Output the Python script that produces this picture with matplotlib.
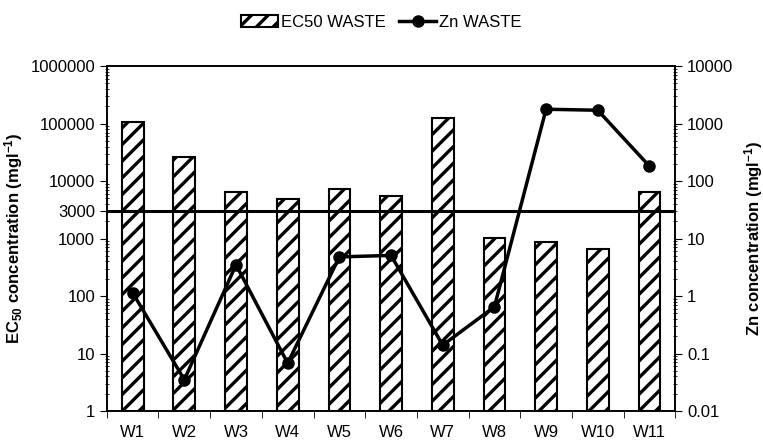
import numpy as np
import matplotlib.pyplot as plt
from matplotlib.ticker import FixedLocator, FuncFormatter, LogLocator, NullFormatter

plt.rcParams["font.family"] = ["Liberation Sans", "DejaVu Sans"]
plt.rcParams["hatch.linewidth"] = 2.4
plt.rcParams["mathtext.fontset"] = "custom"
plt.rcParams["mathtext.rm"] = "Liberation Sans"
plt.rcParams["mathtext.bf"] = "Liberation Sans:bold"
plt.rcParams["mathtext.default"] = "bf"

sites = ["W1", "W2", "W3", "W4", "W5", "W6", "W7", "W8", "W9", "W10", "W11"]
ec50 = [105000, 26000, 6450, 4900, 7350, 5550, 123000, 1030, 870, 660, 6500]
zn = [1.14, 0.035, 3.5, 0.068, 4.8, 5.1, 0.14, 0.65, 1780, 1710, 182]
threshold = 3000
left_ticks = [1, 10, 100, 1000, 3000, 10000, 100000, 1000000]
right_ticks = [0.01, 0.1, 1, 10, 100, 1000, 10000]

fig = plt.figure(figsize=(7.63, 4.47), dpi=100)
ax = fig.add_axes([0.140, 0.0805, 0.745, 0.7715])
x = np.arange(len(sites))

bars = ax.bar(x, ec50, width=0.42, bottom=1, color="white", edgecolor="black",
              linewidth=1.5, hatch="//", label="EC50 WASTE", zorder=2)
ax.axhline(threshold, color="black", linewidth=2.2, zorder=3)
ax.set_yscale("log")
ax.set_ylim(1, 1000000)
ax.set_xlim(-0.5, len(sites) - 0.5)
ax.yaxis.set_major_locator(FixedLocator(left_ticks))
ax.yaxis.set_major_formatter(FuncFormatter(lambda v, _: f"{int(v)}"))
ax.yaxis.set_minor_locator(LogLocator(base=10, subs=np.arange(2, 10)))
ax.yaxis.set_minor_formatter(NullFormatter())
ax.tick_params(axis="y", which="major", length=5, direction="out", labelsize=12)
ax.tick_params(axis="y", which="minor", length=3, direction="inout")
ax.set_ylabel("EC$_{50}$ concentration (mgl$^{-1}$)", fontsize=12, fontweight="bold", labelpad=4)

ax.set_xticks(x)
ax.set_xticklabels(sites, fontsize=12)
ax.set_xticks(np.arange(-0.5, len(sites)), minor=True)
ax.tick_params(axis="x", which="major", length=0, pad=10)
ax.tick_params(axis="x", which="minor", length=5, direction="out")

ax2 = ax.twinx()
ax2.set_yscale("log")
ax2.set_ylim(0.01, 10000)
line, = ax2.plot(x, zn, color="black", linewidth=2.5, marker="o", markersize=8,
                 label="Zn WASTE", zorder=4)
ax2.yaxis.set_major_locator(FixedLocator(right_ticks))
ax2.yaxis.set_major_formatter(FuncFormatter(lambda v, _: f"{v:g}"))
ax2.yaxis.set_minor_locator(LogLocator(base=10, subs=np.arange(2, 10)))
ax2.yaxis.set_minor_formatter(NullFormatter())
ax2.tick_params(axis="y", which="major", length=5, direction="out", labelsize=12)
ax2.tick_params(axis="y", which="minor", length=3, direction="inout")
ax2.set_ylabel("Zn concentration (mgl$^{-1}$)", fontsize=12, fontweight="bold", labelpad=6)

for a in (ax, ax2):
    for s in a.spines.values():
        s.set_linewidth(1.2)

fig.legend([bars, line], ["EC50 WASTE", "Zn WASTE"], loc="upper center",
           bbox_to_anchor=(0.5, 1.0), ncol=2, frameon=False, fontsize=12,
           handlelength=2.2, handletextpad=0.2, columnspacing=0.8)

fig.savefig("out.png", dpi=100)
